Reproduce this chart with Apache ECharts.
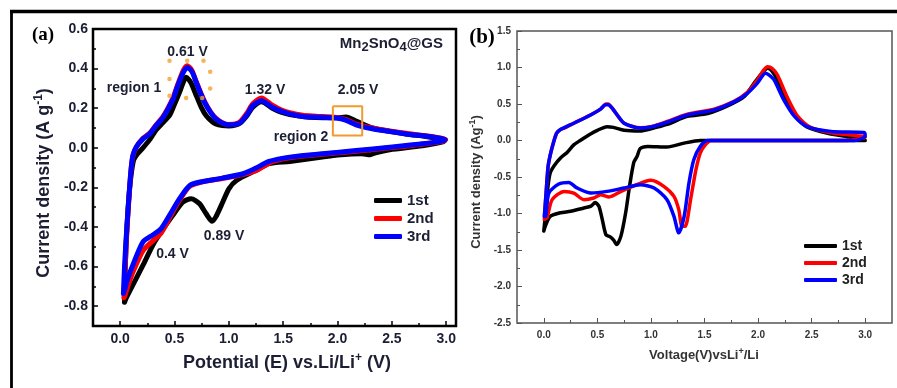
<!DOCTYPE html>
<html><head><meta charset="utf-8">
<script src="https://cdn.jsdelivr.net/npm/echarts@6/dist/echarts.min.js"></script>
<style>html,body{margin:0;padding:0;background:#fff}#c{width:897px;height:388px}</style>
</head><body><div id="c"></div>
<script>
// ---------- Panel (a): Mn2SnO4@GS, potential (V) vs current density (A/g) ----------
const a1st = [[0.04,-0.78],[0.045,-0.65],[0.055,-0.48],[0.07,-0.33],[0.086,-0.21],[0.105,-0.12],[0.125,-0.06],[0.16,-0.03],[0.21,0.0],[0.27,0.04],[0.33,0.09],[0.39,0.125],[0.454,0.163],[0.50,0.22],[0.546,0.28],[0.58,0.33],[0.607,0.356],[0.65,0.33],[0.70,0.264],[0.75,0.2],[0.79,0.163],[0.84,0.135],[0.88,0.12],[0.94,0.112],[1.0,0.11],[1.06,0.115],[1.11,0.128],[1.17,0.165],[1.22,0.205],[1.30,0.232],[1.40,0.2],[1.48,0.18],[1.56,0.168],[1.68,0.158],[1.80,0.153],[1.99,0.152],[2.08,0.155],[2.17,0.135],[2.32,0.1],[2.48,0.083],[2.63,0.07],[2.80,0.058],[2.94,0.047],[2.99,0.04],[2.97,0.03],[2.78,0.01],[2.48,-0.01],[2.35,-0.025],[2.30,-0.035],[2.22,-0.03],[2.0,-0.037],[1.86,-0.047],[1.56,-0.069],[1.37,-0.08],[1.25,-0.114],[1.07,-0.165],[1.0,-0.207],[0.944,-0.274],[0.88,-0.349],[0.846,-0.371],[0.79,-0.332],[0.73,-0.282],[0.653,-0.257],[0.576,-0.274],[0.484,-0.341],[0.377,-0.425],[0.30,-0.492],[0.21,-0.593],[0.116,-0.694],[0.055,-0.76],[0.04,-0.78]];
const a2nd = [[0.035,-0.757],[0.045,-0.62],[0.058,-0.46],[0.072,-0.33],[0.088,-0.20],[0.10,-0.11],[0.118,-0.04],[0.15,0.005],[0.21,0.048],[0.27,0.073],[0.33,0.115],[0.39,0.155],[0.44,0.20],[0.49,0.258],[0.53,0.32],[0.58,0.39],[0.615,0.415],[0.655,0.395],[0.70,0.335],[0.74,0.28],[0.776,0.235],[0.83,0.183],[0.88,0.15],[0.94,0.127],[1.0,0.118],[1.06,0.12],[1.11,0.135],[1.17,0.178],[1.22,0.222],[1.30,0.252],[1.40,0.215],[1.48,0.192],[1.56,0.178],[1.68,0.165],[1.80,0.16],[1.99,0.153],[2.08,0.142],[2.17,0.12],[2.32,0.1],[2.48,0.085],[2.63,0.073],[2.80,0.062],[2.94,0.05],[2.995,0.042],[2.97,0.033],[2.78,0.018],[2.48,0.0],[2.17,-0.017],[1.86,-0.033],[1.56,-0.05],[1.40,-0.07],[1.30,-0.1],[1.25,-0.115],[1.13,-0.135],[0.94,-0.155],[0.76,-0.172],[0.64,-0.195],[0.546,-0.265],[0.454,-0.355],[0.377,-0.43],[0.30,-0.47],[0.21,-0.52],[0.116,-0.63],[0.07,-0.7],[0.045,-0.745],[0.035,-0.757]];
const a3rd = [[0.03,-0.735],[0.04,-0.60],[0.055,-0.458],[0.07,-0.33],[0.086,-0.207],[0.10,-0.11],[0.116,-0.04],[0.147,0.003],[0.21,0.045],[0.27,0.07],[0.33,0.112],[0.39,0.15],[0.44,0.196],[0.49,0.25],[0.53,0.314],[0.58,0.38],[0.617,0.406],[0.66,0.385],[0.70,0.33],[0.74,0.275],[0.776,0.23],[0.83,0.18],[0.88,0.146],[0.94,0.125],[1.0,0.116],[1.06,0.118],[1.11,0.13],[1.17,0.17],[1.22,0.213],[1.30,0.238],[1.40,0.205],[1.48,0.185],[1.56,0.171],[1.68,0.158],[1.80,0.155],[1.99,0.15],[2.08,0.138],[2.17,0.116],[2.32,0.096],[2.48,0.082],[2.63,0.07],[2.80,0.06],[2.94,0.049],[2.99,0.042],[2.97,0.035],[2.78,0.02],[2.48,0.003],[2.17,-0.014],[1.86,-0.03],[1.56,-0.047],[1.37,-0.069],[1.25,-0.102],[1.13,-0.131],[0.94,-0.153],[0.76,-0.17],[0.64,-0.19],[0.546,-0.257],[0.454,-0.341],[0.377,-0.408],[0.30,-0.44],[0.21,-0.475],[0.116,-0.593],[0.07,-0.66],[0.04,-0.72],[0.03,-0.735]];
const region1Dots = [[0.454,0.44],[0.617,0.44],[0.767,0.44],[0.828,0.384],[0.828,0.30],[0.755,0.252],[0.607,0.252],[0.454,0.263],[0.454,0.348]];
const region2Box = [[1.957,0.21],[2.227,0.21],[2.227,0.062],[1.957,0.062],[1.957,0.21]];
const xTicksA = [0,0.5,1,1.5,2,2.5,3];
const xMinorA = [0.25,0.75,1.25,1.75,2.25,2.75];
const yTicksA = [-0.8,-0.6,-0.4,-0.2,0,0.2,0.4,0.6];
const yMinorA = [-0.7,-0.5,-0.3,-0.1,0.1,0.3,0.5];

// ---------- Panel (b) ----------
const b1st = [[0.0,-1.24],[0.02,-0.95],[0.04,-0.62],[0.06,-0.445],[0.10,-0.34],[0.156,-0.24],[0.22,-0.16],[0.28,-0.06],[0.34,0.0],[0.436,0.09],[0.50,0.14],[0.59,0.19],[0.65,0.18],[0.75,0.14],[0.90,0.13],[1.0,0.16],[1.15,0.22],[1.34,0.33],[1.53,0.37],[1.71,0.47],[1.87,0.6],[1.96,0.78],[2.04,0.93],[2.09,0.99],[2.13,0.95],[2.18,0.83],[2.26,0.556],[2.35,0.33],[2.46,0.183],[2.65,0.1],[2.85,0.05],[3.0,0.0],[2.5,0.0],[2.0,0.0],[1.71,0.0],[1.46,0.0],[1.31,-0.036],[1.15,-0.09],[0.97,-0.082],[0.90,-0.11],[0.87,-0.22],[0.84,-0.30],[0.80,-0.63],[0.764,-0.99],[0.72,-1.31],[0.68,-1.425],[0.65,-1.36],[0.62,-1.32],[0.58,-1.29],[0.546,-1.083],[0.514,-0.90],[0.48,-0.85],[0.44,-0.90],[0.374,-0.924],[0.25,-0.97],[0.156,-0.99],[0.06,-1.04],[0.02,-1.15],[0.0,-1.24]];
const b2nd = [[0.005,-1.08],[0.02,-0.75],[0.04,-0.36],[0.06,-0.2],[0.09,-0.03],[0.12,0.1],[0.156,0.15],[0.19,0.17],[0.28,0.237],[0.436,0.35],[0.53,0.43],[0.58,0.5],[0.60,0.5],[0.64,0.44],[0.70,0.32],[0.75,0.237],[0.90,0.175],[1.0,0.19],[1.15,0.26],[1.34,0.36],[1.59,0.43],[1.78,0.54],[1.90,0.66],[1.99,0.82],[2.05,0.96],[2.09,1.01],[2.13,0.99],[2.18,0.9],[2.27,0.6],[2.37,0.33],[2.49,0.18],[2.71,0.1],[2.99,0.055],[3.0,0.04],[2.8,0.0],[2.0,0.0],[1.56,0.0],[1.50,-0.072],[1.46,-0.172],[1.42,-0.40],[1.37,-0.81],[1.32,-1.175],[1.29,-1.175],[1.26,-0.947],[1.215,-0.765],[1.12,-0.628],[1.0,-0.546],[0.84,-0.62],[0.72,-0.697],[0.61,-0.773],[0.53,-0.742],[0.467,-0.787],[0.374,-0.81],[0.28,-0.72],[0.19,-0.697],[0.078,-0.81],[0.03,-1.06],[0.005,-1.08]];
const b3rd = [[0.005,-1.04],[0.02,-0.75],[0.04,-0.36],[0.06,-0.2],[0.09,-0.03],[0.12,0.1],[0.156,0.15],[0.28,0.237],[0.436,0.35],[0.53,0.43],[0.577,0.49],[0.60,0.49],[0.64,0.44],[0.75,0.237],[0.90,0.17],[1.0,0.185],[1.15,0.25],[1.34,0.35],[1.59,0.42],[1.78,0.533],[1.90,0.647],[1.99,0.78],[2.07,0.92],[2.11,0.89],[2.15,0.83],[2.24,0.556],[2.34,0.33],[2.46,0.19],[2.68,0.123],[2.99,0.11],[3.0,0.06],[2.9,0.0],[2.0,0.0],[1.53,0.0],[1.46,-0.082],[1.40,-0.264],[1.355,-0.582],[1.31,-1.04],[1.26,-1.265],[1.215,-1.04],[1.15,-0.81],[1.03,-0.65],[0.90,-0.605],[0.75,-0.65],[0.59,-0.697],[0.44,-0.72],[0.31,-0.65],[0.234,-0.574],[0.14,-0.595],[0.047,-0.72],[0.016,-1.04],[0.005,-1.04]];
const xTicksB = [0,0.5,1,1.5,2,2.5,3];
const xMinorB = [0.25,0.75,1.25,1.75,2.25,2.75];
const yTicksB = [-2.5,-2,-1.5,-1,-0.5,0,0.5,1,1.5];
const yMinorB = [-2.25,-1.75,-1.25,-0.75,-0.25,0.25,0.75,1.25];

const seriesNames = ['1st','2nd','3rd'];
const colors = ['#000000','#ff0000','#0000ff'];

const FF = 'Liberation Sans, Arial, sans-serif';
const inkA = '#1c1f33';
const inkB = '#333333';

function mainAxis(grid, min, max, ticks, pos, opts) {
  return {
    type:'value', gridIndex:grid, min, max, position:pos,
    axisLine:{show:false, onZero:false}, splitLine:{show:false},
    axisTick:{show:true, inside:true, customValues:ticks, length:opts.tl, lineStyle:{color:opts.tc, width:opts.tw}},
    axisLabel:{show:true, customValues:ticks, margin:opts.margin, fontFamily:FF, fontWeight:'bold', fontSize:opts.fs, color:opts.ink,
      formatter:(v)=>Number(v).toFixed(1)}
  };
}
function minorAxis(grid, min, max, ticks, pos, opts) {
  return {
    type:'value', gridIndex:grid, min, max, position:pos,
    axisLine:{show:false, onZero:false}, splitLine:{show:false},
    axisTick:{show:true, inside:true, customValues:ticks, length:opts.ml, lineStyle:{color:opts.tc, width:opts.tw}},
    axisLabel:{show:false}
  };
}
const optA = {tl:5, ml:3, tc:'#000', tw:1.5, fs:14, ink:inkA, margin:6};
const optAy = Object.assign({}, optA, {margin:5});
const optB = {tl:5, ml:3, tc:'#555', tw:1, fs:10, ink:inkB, margin:7};
const optBy = Object.assign({}, optB, {margin:6});

function cv(name, data, xi, yi, color, w, z) {
  return {name, type:'line', xAxisIndex:xi, yAxisIndex:yi, data, showSymbol:false, symbol:'none', smooth:0.25,
    lineStyle:{color, width:w, cap:'round', join:'round'}, itemStyle:{color}, z, animation:false};
}

const chart = echarts.init(document.getElementById('c'), null, {renderer:'canvas'});
chart.setOption({
  animation:false,
  backgroundColor:'#ffffff',
  grid:[
    {left:93, top:29, width:363, height:297, show:true, borderColor:'#000', borderWidth:2.5, backgroundColor:'transparent'},
    {left:517, top:31, width:375, height:292, show:true, borderColor:'#555', borderWidth:1.5, backgroundColor:'transparent'}
  ],
  xAxis:[
    mainAxis(0,-0.25,3.09,xTicksA,'bottom',optA),
    minorAxis(0,-0.25,3.09,xMinorA,'bottom',optA),
    mainAxis(1,-0.25,3.25,xTicksB,'bottom',optB),
    minorAxis(1,-0.25,3.25,xMinorB,'bottom',optB)
  ],
  yAxis:[
    mainAxis(0,-0.9,0.6,yTicksA,'left',optAy),
    minorAxis(0,-0.9,0.6,yMinorA,'left',optA),
    mainAxis(1,-2.5,1.5,yTicksB,'left',optBy),
    minorAxis(1,-2.5,1.5,yMinorB,'left',optB)
  ],
  legend:[
    {data:seriesNames, orient:'vertical', left:369, top:188, itemWidth:28, itemHeight:5, itemGap:3, icon:'roundRect',
      textStyle:{fontFamily:FF, fontWeight:'bold', fontSize:15, color:inkA}, selectedMode:false},
    {data:seriesNames, orient:'vertical', left:799, top:234, itemWidth:33, itemHeight:4, itemGap:3, icon:'roundRect',
      textStyle:{fontFamily:FF, fontWeight:'bold', fontSize:14, color:'#222'}, selectedMode:false}
  ],
  series:[
    cv('1st', a1st, 0, 0, colors[0], 5, 2),
    cv('2nd', a2nd, 0, 0, colors[1], 5, 3),
    cv('3rd', a3rd, 0, 0, colors[2], 5, 4),
    cv('1st', b1st, 2, 2, colors[0], 3.5, 2),
    cv('2nd', b2nd, 2, 2, colors[1], 3.5, 3),
    cv('3rd', b3rd, 2, 2, colors[2], 3.5, 4),
    {name:'region 1', type:'scatter', xAxisIndex:0, yAxisIndex:0, data:region1Dots, symbolSize:4.5,
      itemStyle:{color:'#f5a02a'}, z:6, silent:true},
    {name:'region 2', type:'line', xAxisIndex:0, yAxisIndex:0, data:region2Box, showSymbol:false, symbol:'none',
      lineStyle:{color:'#f29a2e', width:2}, z:6, silent:true}
  ],
  graphic:[
    {type:'line', shape:{x1:10, y1:11.5, x2:897, y2:11.5}, style:{stroke:'#000', lineWidth:3.3}},
    {type:'line', shape:{x1:11.5, y1:10, x2:11.5, y2:388}, style:{stroke:'#000', lineWidth:2.8}},
    {type:'text', x:43, y:35, style:{text:'(a)', font:'bold 19px "Liberation Serif", "Times New Roman", serif', fill:'#000', align:'center', verticalAlign:'middle'}},
    {type:'text', x:482, y:38, style:{text:'(b)', font:'bold 21px "Liberation Serif", "Times New Roman", serif', fill:'#000', align:'center', verticalAlign:'middle'}},
    {type:'text', x:443, y:44, style:{text:'{m|Mn}{s|2}{m|SnO}{s|4}{m|@GS}', align:'right', verticalAlign:'middle',
      rich:{m:{font:'bold 15px '+FF, fill:inkA, lineHeight:20}, s:{font:'bold 13px '+FF, fill:inkA, verticalAlign:'bottom', lineHeight:14, padding:[8,0,0,0]}}}},
    {type:'text', x:187.5, y:52, style:{text:'0.61 V', font:'bold 14px '+FF, fill:inkA, align:'center', verticalAlign:'middle'}},
    {type:'text', x:134, y:88, style:{text:'region 1', font:'bold 14px '+FF, fill:inkA, align:'center', verticalAlign:'middle'}},
    {type:'text', x:265, y:90.5, style:{text:'1.32 V', font:'bold 14px '+FF, fill:inkA, align:'center', verticalAlign:'middle'}},
    {type:'text', x:358, y:90.5, style:{text:'2.05 V', font:'bold 14px '+FF, fill:inkA, align:'center', verticalAlign:'middle'}},
    {type:'text', x:301, y:137, style:{text:'region 2', font:'bold 14px '+FF, fill:inkA, align:'center', verticalAlign:'middle'}},
    {type:'text', x:224, y:236, style:{text:'0.89 V', font:'bold 14px '+FF, fill:inkA, align:'center', verticalAlign:'middle'}},
    {type:'text', x:172.5, y:254, style:{text:'0.4 V', font:'bold 14px '+FF, fill:inkA, align:'center', verticalAlign:'middle'}},
    {type:'text', x:44, y:183, rotation:Math.PI/2, style:{text:'{m|Current density (A g}{s|-1}{m|)}', align:'center', verticalAlign:'middle',
      rich:{m:{font:'bold 18px '+FF, fill:inkA, lineHeight:22}, s:{font:'bold 12px '+FF, fill:inkA, verticalAlign:'top', lineHeight:12}}}},
    {type:'text', x:287, y:363, style:{text:'{m|Potential (E) vs.Li/Li}{s|+}{m| (V)}', align:'center', verticalAlign:'middle',
      rich:{m:{font:'bold 18px '+FF, fill:inkA, lineHeight:22}, s:{font:'bold 12px '+FF, fill:inkA, verticalAlign:'top', lineHeight:12}}}},
    {type:'text', x:476.5, y:182, rotation:Math.PI/2, style:{text:'{m|Current density (Ag}{s|-1}{m|)}', align:'center', verticalAlign:'middle',
      rich:{m:{font:'bold 13px '+FF, fill:inkB, lineHeight:16}, s:{font:'bold 9px '+FF, fill:inkB, verticalAlign:'top', lineHeight:9}}}},
    {type:'text', x:704, y:355, style:{text:'{m|Voltage(V)vsLi}{s|+}{m|/Li}', align:'center', verticalAlign:'middle',
      rich:{m:{font:'bold 13px '+FF, fill:inkB, lineHeight:16}, s:{font:'bold 9px '+FF, fill:inkB, verticalAlign:'top', lineHeight:9}}}}
  ]
});
</script></body></html>
